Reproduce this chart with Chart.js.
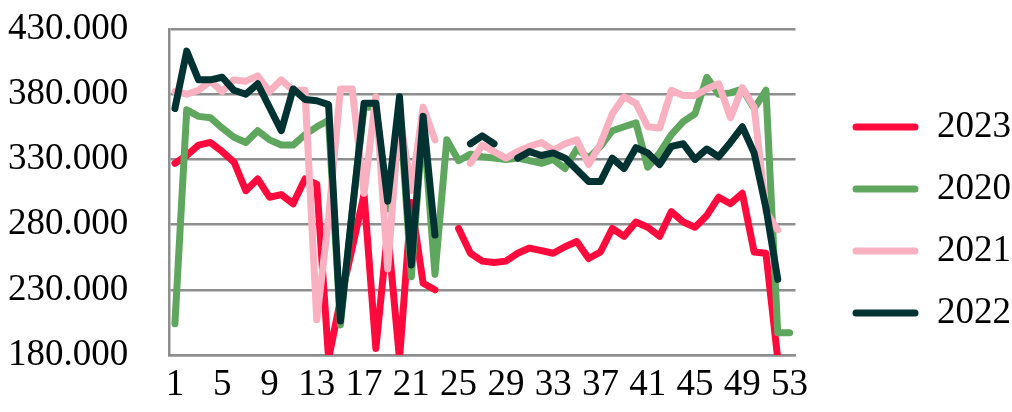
<!DOCTYPE html>
<html>
<head>
<meta charset="utf-8">
<script src="https://cdn.jsdelivr.net/npm/chart.js@4.4.1/dist/chart.umd.min.js"></script>
<style>
    html, body { margin: 0; padding: 0; background: #fff; }
    #wrap { width: 1012px; height: 412px; }
</style>
</head>
<body>
<div id="wrap"><canvas id="myLineChart" width="1012" height="412"></canvas></div>
<script>
// week numbers
const weeks = [1, 2, 3, 4, 5, 6, 7, 8, 9, 10, 11, 12, 13, 14, 15, 16, 17, 18, 19, 20,
    21, 22, 23, 24, 25, 26, 27, 28, 29, 30, 31, 32, 33, 34, 35, 36, 37, 38, 39, 40,
    41, 42, 43, 44, 45, 46, 47, 48, 49, 50, 51, 52, 53];

// values in thousands
const data_2023 = [327, 333, 341, 343, 336, 328, 306, 315, 301, 303, 296, 315, 311, 177, 222, 262, 303, 185, 275, 177,
    297, 235, 230, null, 277, 258, 252, 251, 252, 258, 262, 260, 258, 263, 267, 254, 259, 277, 271, 282,
    278, 271, 290, 282, 278, 287, 301, 296, 304, 259, 258, 177, null];
const data_2020 = [204, 368, 363, 362, 354, 347, 343, 352, 345, 341, 341, 349, 355, 360, 203, 290, 370, 370, 292, 372,
    240, 360, 242, 345, 329, 334, 332, 331, 330, 331, 329, 327, 330, 323, 338, 331, 340, 352, 355, 358,
    324, 335, 349, 359, 365, 393, 380, 381, 384, 369, 383, 197, 197];
const data_2021 = [382, 380, 383, 390, 382, 391, 390, 394, 382, 391, 383, 383, 207, 285, 384, 384, 304, 378, 246, 365,
    306, 370, 345, null, null, 327, 341, 336, 331, 336, 340, 343, 337, 342, 345, 326, 342, 365, 378, 373,
    355, 354, 383, 379, 379, 384, 388, 362, 385, 370, 290, 276, null];
const data_2022 = [369, 413, 391, 391, 393, 383, 380, 388, 370, 352, 384, 376, 375, 372, 206, 290, 373, 373, 298, 378,
    249, 363, 272, null, null, 342, 348, 342, null, 331, 336, 333, 335, 331, 322, 313, 313, 331, 323, 339,
    335, 326, 340, 342, 330, 338, 332, 343, 355, 335, 293, 238, null];

const y_ticks = [180, 230, 280, 330, 380, 430];

const font_name = '"Liberation Serif", "DejaVu Serif", serif';
const grid_color = '#8e8e8e';

function make_set(label, values, color, order) {
    return {
        label: label,
        data: values,
        borderColor: color,
        backgroundColor: color,
        borderWidth: 7,
        pointRadius: 0,
        tension: 0,
        spanGaps: false,
        borderJoinStyle: 'round',
        borderCapStyle: 'round',
        order: order
    };
}

// nudge the legend to where it sits in the original
const legend_shift = {
    id: 'legend_shift',
    afterLayout(chart) {
        const lg = chart.legend;
        if (!lg) return;
        lg.left += 32;
        lg.right += 32;
        lg.top += 2;
        lg.bottom += 2;
    }
};

window.onload = () => {
    const ctx = document.getElementById('myLineChart').getContext('2d');
    const myLineChart = new Chart(ctx, {
        type: 'line',
        data: {
            labels: weeks,
            datasets: [
                make_set('2023', data_2023, '#ff0a3c', 3),
                make_set('2020', data_2020, '#5fa75f', 2),
                make_set('2021', data_2021, '#f9b1c1', 1),
                make_set('2022', data_2022, '#033232', 0)
            ]
        },
        options: {
            responsive: false,
            animation: false,
            layout: {
                padding: { left: 8, right: 23, top: 29, bottom: 5 }
            },
            plugins: {
                legend: {
                    display: true,
                    position: 'right',
                    labels: {
                        boxWidth: 66,
                        boxHeight: 7,
                        padding: 25,
                        color: '#000',
                        useBorderRadius: true,
                        borderRadius: 3.5,
                        font: { family: font_name, size: 37 },
                        sort: (a, b) => a.datasetIndex - b.datasetIndex,
                        generateLabels: (chart) => {
                            const items = Chart.defaults.plugins.legend.labels.generateLabels(chart);
                            items.forEach(it => { it.lineWidth = 0; });
                            return items;
                        }
                    }
                },
                tooltip: { enabled: false }
            },
            scales: {
                x: {
                    offset: true,
                    grid: { display: false, drawTicks: false },
                    border: { display: true, color: grid_color, width: 2.5 },
                    afterFit: (scale) => {
                        scale.height = 52;
                    },
                    ticks: {
                        color: '#000',
                        font: { family: font_name, size: 37 },
                        autoSkip: false,
                        maxRotation: 0,
                        padding: 8,
                        callback: function (value, index) {
                            return index % 4 === 0 ? weeks[index] : '';
                        }
                    }
                },
                y: {
                    min: y_ticks[0],
                    max: y_ticks[y_ticks.length - 1],
                    afterBuildTicks: (scale) => {
                        scale.ticks = y_ticks.map(v => ({ value: v }));
                    },
                    afterFit: (scale) => {
                        scale.width = 161;
                    },
                    grid: { color: grid_color, lineWidth: 2.5, drawTicks: false },
                    border: { display: true, color: grid_color, width: 2.5 },
                    ticks: {
                        color: '#000',
                        font: { family: font_name, size: 37 },
                        padding: 4,
                        crossAlign: 'far',
                        callback: (v) => v + '.000'
                    }
                }
            }
        },
        plugins: [legend_shift]
    });
};
</script>
</body>
</html>
